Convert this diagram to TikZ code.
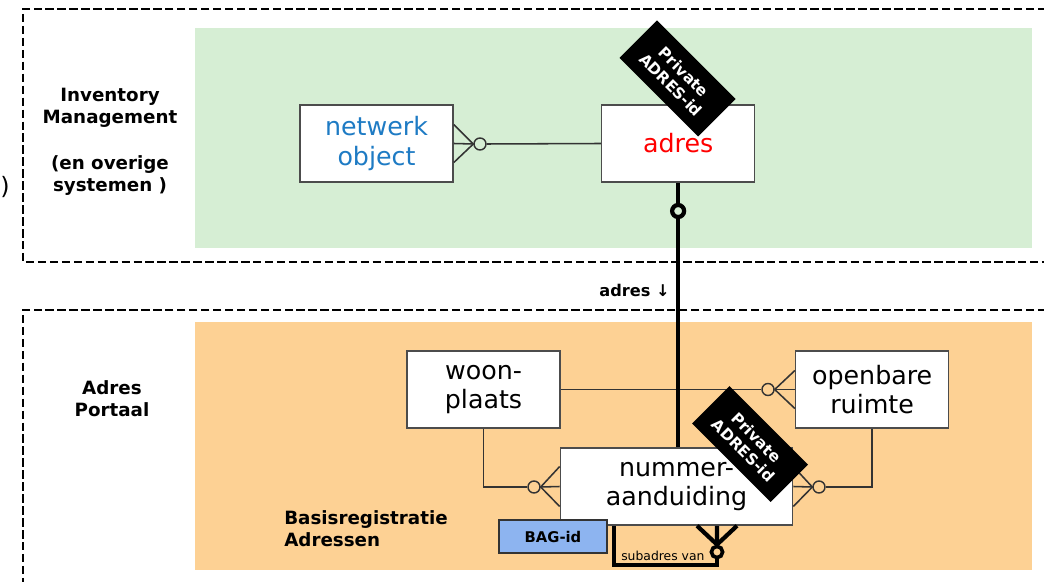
\documentclass[tikz,border=0pt]{standalone}
\usepackage{fontspec}
\setmainfont{DejaVu Sans}
\usetikzlibrary{positioning,calc}
\definecolor{GreenArea}{RGB}{214,238,212}
\definecolor{OrangeArea}{RGB}{253,209,148}
\definecolor{NetwerkBlue}{RGB}{30,123,196}
\definecolor{BagBlue}{RGB}{141,180,240}
\tikzstyle{BoxNode}=[rectangle, draw=black!70, line width=1.1pt, fill=white, align=center, inner sep=0pt, minimum width=3.825cm, minimum height=1.925cm, font=\fontsize{18}{21}\selectfont]
\tikzstyle{PrivateTag}=[rectangle, fill=black, text=white, align=center, inner sep=0pt, minimum width=2.775cm, minimum height=1.325cm, rotate=-45, font=\bfseries\fontsize{11}{13}\selectfont]
\tikzstyle{BagBox}=[rectangle, draw=black!80, line width=1.1pt, fill=BagBlue, inner sep=0pt, minimum width=2.7cm, minimum height=0.825cm, font=\bfseries\fontsize{10.5}{12}\selectfont]
\tikzstyle{LayerLabel}=[align=center, inner sep=0pt, font=\bfseries\fontsize{13}{15.6}\selectfont]
\tikzstyle{LayerFrame}=[draw=black, line width=2pt, dash pattern=on 6pt off 2.5pt]
\tikzstyle{CrowCircle}=[circle, draw=black!80, line width=1pt, inner sep=0pt, minimum size=0.3cm]
\tikzstyle{ThinLine}=[draw=black!80, line width=1.1pt]
\tikzstyle{ThickLine}=[draw=black, line width=3pt]

\begin{document}
\begin{tikzpicture}[x=0.025cm, y=-0.025cm]
    \useasboundingbox (0,0) rectangle (1044,582);

    % layers
    \fill [GreenArea] (195,28) rectangle (1032,248);
    \fill [OrangeArea] (195,322) rectangle (1032,570);
    \draw [LayerFrame] (1046,9) -| (23,262) -- (1046,262);
    \draw [LayerFrame] (1046,310) -| (23,584);

    \node (InvLabel) [LayerLabel] at (110,142) {Inventory\\Management\\[17pt](en overige\\systemen )};
    \node (PortaalLabel) [LayerLabel] at (112,399) {Adres\\Portaal};
    \node (BasisLabel) [LayerLabel, align=left, anchor=west] at (284,529) {Basisregistratie\\Adressen};
    \node (CutParen) [font=\fontsize{17}{21}\selectfont] at (5,187) {)};

    % entities
    \node (NetwerkObject) [BoxNode, text=NetwerkBlue] at (376.5,143.5) {netwerk\\object};
    \node (Adres) [BoxNode, text=red, right=3.675cm of NetwerkObject] {adres};
    \node (Woonplaats) [BoxNode] at (483.5,389.5) {woon-\\plaats};
    \node (OpenbareRuimte) [BoxNode, right=5.85cm of Woonplaats] {openbare\\ruimte};
    \node (Nummer) [BoxNode, minimum width=5.8cm] at (676.5,486.5) {nummer-\\aanduiding};

    \node (CircNetwerk) [CrowCircle] at (480,144) {};
    \node (CircAdres) [CrowCircle, draw=black, line width=3pt, minimum size=0.3cm] at (Adres.south |- 0,211) {};
    \node (CircOpenbaar) [CrowCircle] at (768,389.5) {};
    \node (CircNummerW) [CrowCircle] at (534,487) {};
    \node (CircNummerE) [CrowCircle] at (819,487) {};
    \node (CircSub) [CrowCircle, draw=black, line width=2.6pt, minimum size=0.28cm] at (717,552) {};

    % relations
    \draw [ThinLine] (Adres.west) -- (CircNetwerk.east);
    \foreach \dy in {-19,0,19}
        \draw [ThinLine] (CircNetwerk.west) -- ($(NetwerkObject.east)+(0,\dy)$);
    \draw [ThinLine] (Woonplaats.east) -- (CircOpenbaar.west);
    \foreach \dy in {-19,0,19}
        \draw [ThinLine] (CircOpenbaar.east) -- ($(OpenbareRuimte.west)+(0,\dy)$);
    \draw [ThinLine] (Woonplaats.south) |- (CircNummerW.west);
    \foreach \dy in {-20,0,20}
        \draw [ThinLine] (CircNummerW.east) -- ($(Nummer.west)+(0,\dy)$);
    \draw [ThinLine] (OpenbareRuimte.south) |- (CircNummerE.east);
    \foreach \dy in {-20,0,20}
        \draw [ThinLine] (CircNummerE.west) -- ($(Nummer.east)+(0,\dy)$);

    \draw [ThickLine] (Adres.south) -- (CircAdres.north);
    \draw [ThickLine] (CircAdres.south) -- (CircAdres.south |- Nummer.north);
    \node (FlowLabel) [anchor=east, inner sep=0pt, font=\bfseries\fontsize{11.5}{13}\selectfont] at (670,290) {adres ↓};

    \coordinate (SubStart) at ($(Nummer.south west)+(54.5,0)$);
    \coordinate (SubCorner) at (717,565);
    \draw [ThickLine] (SubStart) |- (SubCorner) -- (CircSub.south);
    \foreach \dx in {-20,0,20}
        \draw [ThickLine] (CircSub.north) -- ($(Nummer.south)+(40.5+\dx,0)$);
    \node (SubLabel) [anchor=west, inner sep=0pt, font=\fontsize{8.8}{10}\selectfont] at (621,556) {subadres van};

    \node (BagId) [BagBox] at (553,536.5) {BAG-id};

    \node (PrivateTop) [PrivateTag] at (677.5,78.5) {Private\\ADRES-id};
    \node (PrivateBottom) [PrivateTag] at (750,444) {Private\\ADRES-id};

\end{tikzpicture}
\end{document}
